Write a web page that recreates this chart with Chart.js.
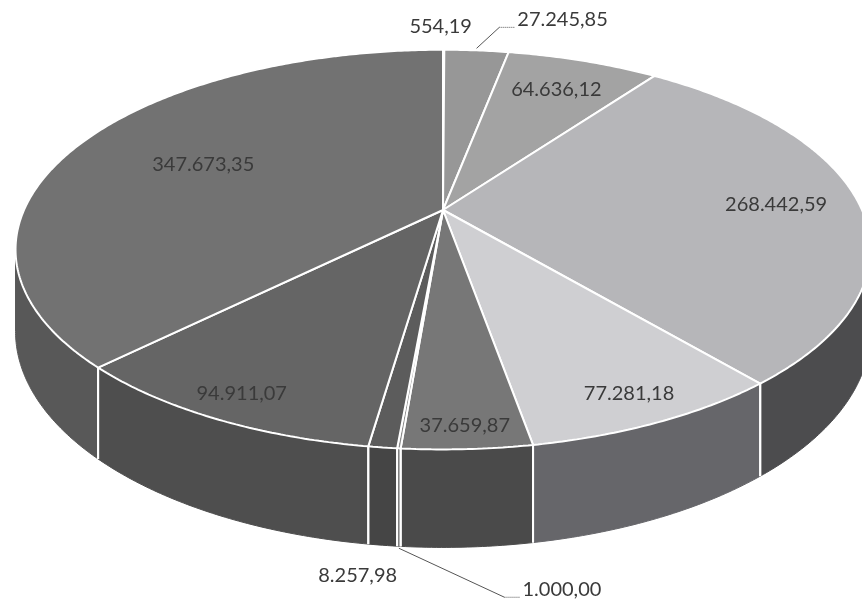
<!DOCTYPE html>
<html>
<head>
<meta charset="utf-8">
<script src="https://cdn.jsdelivr.net/npm/chart.js@4.4.1/dist/chart.umd.min.js"></script>
<style>
  html, body { margin: 0; padding: 0; background: #fff; }
  canvas { display: block; }
</style>
</head>
<body>
<canvas id="pieChart" width="862" height="604"></canvas>
<script>
// slice values, clockwise from 12 o'clock
var values = [554.19, 27245.85, 64636.12, 268442.59, 77281.18, 37659.87, 1000.00, 8257.98, 94911.07, 347673.35];

// top face and side wall greys
var topColors = ['#8c8c8c', '#979797', '#a3a3a3', '#b6b6b9', '#cfcfd2', '#777777', '#8a8a8a', '#5c5c5c', '#656565', '#727272'];
var wallColors = ['#666666', '#6e6e6e', '#777777', '#4c4c4e', '#66666a', '#4a4a4a', '#555555', '#454545', '#4e4e4e', '#585858'];

// label placement: inside labels sit at a fraction of the radius, outside ones are shifted from the rim
var labelRadius = [null, null, 0.78, 0.8, 0.885, 0.92, null, null, 0.9, 0.65];
var labelShift = [[-3, -23], [86, -31], null, null, null, null, [163, 43], [-25, 30], null, null];
var labelLeader = [false, true, false, false, false, false, true, false, false, false];

// perspective view of the flat pie
var view = {x: 443, y: 210, sx: 419, sy: 192, t: 0.198, depth: 78.6};

function fmt(v) {
    var parts = v.toFixed(2).split('.');
    return parts[0].replace(/\B(?=(\d{3})+(?!\d))/g, '.') + ',' + parts[1];
}

function project(el, px, py, drop) {
    var u = (px - el.x) / el.outerRadius;
    var v = (py - el.y) / el.outerRadius;
    var w = 1 - view.t * v;
    return [view.x + view.sx * u / w, view.y + (view.sy * v + (drop ? view.depth : 0)) / w];
}

function projectAngle(el, a, r, drop) {
    return project(el, el.x + Math.cos(a) * el.outerRadius * r, el.y + Math.sin(a) * el.outerRadius * r, drop);
}

var proto = CanvasRenderingContext2D.prototype;

var pie3d = {
    id: 'pie3d',
    beforeDatasetsDraw: function (chart) {
        var ctx = chart.ctx;
        var arcs = chart.getDatasetMeta(0).data;
        var ref = arcs[0];
        var lo = Math.asin(view.t), hi = Math.PI - lo;

        // side walls
        arcs.forEach(function (el, i) {
            var s = Math.max(el.startAngle, lo), e = Math.min(el.endAngle, hi);
            if (e <= s) return;
            var n = Math.max(2, Math.ceil((e - s) / 0.01)), k, p;
            ctx.beginPath();
            for (k = 0; k <= n; k++) {
                p = projectAngle(el, s + (e - s) * k / n, 1, false);
                ctx.lineTo(p[0], p[1]);
            }
            for (k = n; k >= 0; k--) {
                p = projectAngle(el, s + (e - s) * k / n, 1, true);
                ctx.lineTo(p[0], p[1]);
            }
            ctx.closePath();
            ctx.fillStyle = wallColors[i];
            ctx.fill();
            ctx.strokeStyle = wallColors[i];
            ctx.lineWidth = 1;
            ctx.stroke();
        });

        // white edges where the slices meet on the wall
        ctx.strokeStyle = '#ffffff';
        ctx.lineWidth = 2;
        arcs.forEach(function (el) {
            [el.startAngle, el.endAngle].forEach(function (a) {
                if (a <= lo || a >= hi) return;
                var p0 = projectAngle(el, a, 1, false), p1 = projectAngle(el, a, 1, true);
                ctx.beginPath();
                ctx.moveTo(p0[0], p0[1]);
                ctx.lineTo(p1[0], p1[1]);
                ctx.stroke();
            });
        });

        // let Chart.js draw the top face through the perspective view
        ctx.moveTo = function (x, y) {
            var p = project(ref, x, y, false);
            proto.moveTo.call(ctx, p[0], p[1]);
        };
        ctx.lineTo = function (x, y) {
            var p = project(ref, x, y, false);
            proto.lineTo.call(ctx, p[0], p[1]);
        };
        ctx.arc = function (x, y, r, a0, a1) {
            var n = Math.max(2, Math.ceil(Math.abs(a1 - a0) / 0.01));
            for (var k = 0; k <= n; k++) {
                var a = a0 + (a1 - a0) * k / n;
                var p = project(ref, x + Math.cos(a) * r, y + Math.sin(a) * r, false);
                proto.lineTo.call(ctx, p[0], p[1]);
            }
        };
    },
    afterDatasetsDraw: function (chart) {
        var ctx = chart.ctx;
        delete ctx.moveTo;
        delete ctx.lineTo;
        delete ctx.arc;

        var arcs = chart.getDatasetMeta(0).data;
        var lo = Math.asin(view.t), hi = Math.PI - lo;

        ctx.save();
        ctx.font = '20px Lato';
        ctx.textAlign = 'center';
        ctx.textBaseline = 'middle';
        arcs.forEach(function (el, i) {
            var mid = (el.startAngle + el.endAngle) / 2;
            var text = fmt(values[i]);
            var p;
            if (labelRadius[i] !== null) {
                p = projectAngle(el, mid, labelRadius[i], false);
            } else {
                var onWall = mid > lo && mid < hi;
                var anchor = projectAngle(el, mid, 1, onWall);
                p = [anchor[0] + labelShift[i][0], anchor[1] + labelShift[i][1]];
                if (labelLeader[i]) {
                    var left = p[0] - ctx.measureText(text).width / 2;
                    var ly = p[1] + 8;
                    ctx.strokeStyle = '#555555';
                    ctx.lineWidth = 1;
                    ctx.beginPath();
                    ctx.moveTo(anchor[0], anchor[1] + (onWall ? 2 : -2));
                    ctx.lineTo(left - 18, ly);
                    ctx.stroke();
                    ctx.setLineDash([1, 1]);
                    ctx.beginPath();
                    ctx.moveTo(left - 18, ly);
                    ctx.lineTo(left - 3, ly);
                    ctx.stroke();
                    ctx.setLineDash([]);
                }
            }
            ctx.fillStyle = '#3a3a3a';
            ctx.fillText(text, p[0], p[1]);
        });
        ctx.restore();
    }
};

new Chart(document.getElementById('pieChart'), {
    type: 'pie',
    data: {
        labels: values.map(fmt),
        datasets: [{
            data: values,
            backgroundColor: topColors,
            borderColor: '#ffffff',
            borderWidth: 2,
            clip: false
        }]
    },
    options: {
        responsive: false,
        animation: false,
        layout: { padding: 0 },
        plugins: {
            legend: { display: false },
            tooltip: { enabled: false }
        }
    },
    plugins: [pie3d]
});
</script>
</body>
</html>
